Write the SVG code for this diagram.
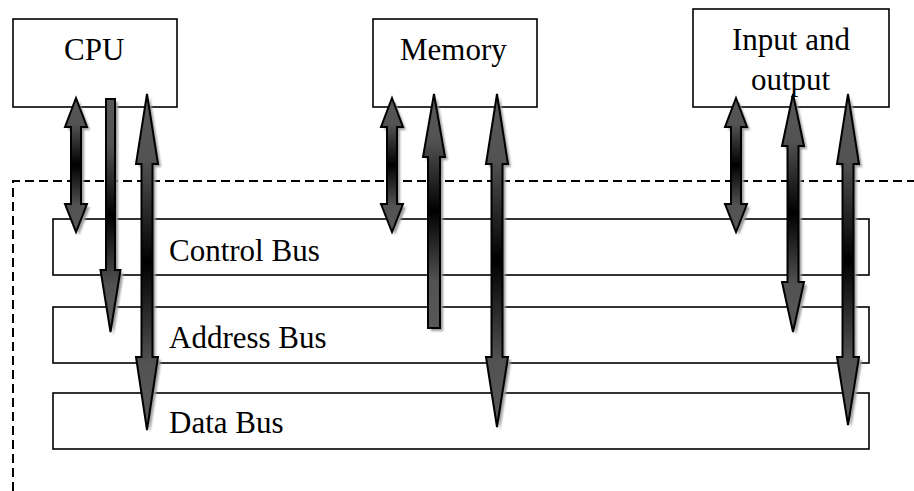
<svg xmlns="http://www.w3.org/2000/svg" width="914" height="491" viewBox="0 0 914 491">
<defs>
<linearGradient id="g" x1="0" y1="0" x2="0" y2="1">
<stop offset="0" stop-color="#585858"/>
<stop offset="0.2" stop-color="#525252"/>
<stop offset="0.5" stop-color="#000"/>
<stop offset="0.8" stop-color="#525252"/>
<stop offset="1" stop-color="#585858"/>
</linearGradient>
<filter id="blur" x="-20%" y="-5%" width="140%" height="110%"><feGaussianBlur stdDeviation="0.8"/></filter>
</defs>
<style>
.box{fill:#fff;stroke:#000;stroke-width:1.6}
.lbl{font-family:"Liberation Serif","Times New Roman",serif;font-size:31px;fill:#000}
.arr{fill:url(#g);stroke:#000;stroke-width:2;stroke-linejoin:miter}
.sh{fill:#9a9a9a;stroke:none;filter:url(#blur)}
.dash{fill:none;stroke:#000;stroke-width:2;stroke-dasharray:9,5}
</style>
<rect width="914" height="491" fill="#fff"/>
<path class="dash" d="M13,491 L13,181 L914,181"/>
<g id="cpu"><rect class="box" x="13" y="19" width="164" height="88"/><text class="lbl" x="64" y="60">CPU</text></g>
<g id="memory"><rect class="box" x="373" y="19" width="164" height="88"/><text class="lbl" x="400" y="60">Memory</text></g>
<g id="io"><rect class="box" x="693" y="9" width="196" height="98"/><text class="lbl" x="732" y="50">Input and</text><text class="lbl" x="751" y="90">output</text></g>
<g id="control-bus"><rect class="box" x="53" y="219" width="816" height="56"/><text class="lbl" x="169" y="261">Control Bus</text></g>
<g id="address-bus"><rect class="box" x="53" y="307" width="816" height="56"/><text class="lbl" x="169" y="348">Address Bus</text></g>
<g id="data-bus"><rect class="box" x="53" y="393" width="816" height="56"/><text class="lbl" x="169" y="433">Data Bus</text></g>
<g id="connectors">
<defs>
<path id="a1" d="M76,98 L87,127 L81,127 L81,204 L87,204 L76,232 L65,204 L71,204 L71,127 L65,127 Z"/>
<path id="a2" d="M106,99 L115,99 L115,270 L120.5,270 L110.5,332 L100.5,270 L106,270 Z"/>
<path id="a3" d="M147,94 L158,164 L152.5,164 L152.5,357 L158,357 L147,430 L136,357 L141.5,357 L141.5,164 L136,164 Z"/>
<path id="a4" d="M392,98 L403,127 L397,127 L397,204 L403,204 L392,232 L381,204 L387,204 L387,127 L381,127 Z"/>
<path id="a5" d="M434,94 L445,157 L440,157 L440,328 L428,328 L428,157 L423,157 Z"/>
<path id="a6" d="M497,94 L508,164 L502.5,164 L502.5,357 L508,357 L497,427 L486,357 L491.5,357 L491.5,164 L486,164 Z"/>
<path id="a7" d="M736,98 L747,127 L741,127 L741,204 L747,204 L736,232 L725,204 L731,204 L731,127 L725,127 Z"/>
<path id="a8" d="M793,94 L804,146 L798.5,146 L798.5,282 L804,282 L793,332 L782,282 L787.5,282 L787.5,146 L782,146 Z"/>
<path id="a9" d="M848,94 L859,164 L853.5,164 L853.5,357 L859,357 L848,425 L837,357 L842.5,357 L842.5,164 L837,164 Z"/>
</defs>
<use href="#a1" class="sh" transform="translate(3,3)"/><use href="#a1" class="arr"/>
<use href="#a2" class="sh" transform="translate(3,3)"/><use href="#a2" class="arr"/>
<use href="#a3" class="sh" transform="translate(3,3)"/><use href="#a3" class="arr"/>
<use href="#a4" class="sh" transform="translate(3,3)"/><use href="#a4" class="arr"/>
<use href="#a5" class="sh" transform="translate(3,3)"/><use href="#a5" class="arr"/>
<use href="#a6" class="sh" transform="translate(3,3)"/><use href="#a6" class="arr"/>
<use href="#a7" class="sh" transform="translate(3,3)"/><use href="#a7" class="arr"/>
<use href="#a8" class="sh" transform="translate(3,3)"/><use href="#a8" class="arr"/>
<use href="#a9" class="sh" transform="translate(3,3)"/><use href="#a9" class="arr"/>
</g>
</svg>
